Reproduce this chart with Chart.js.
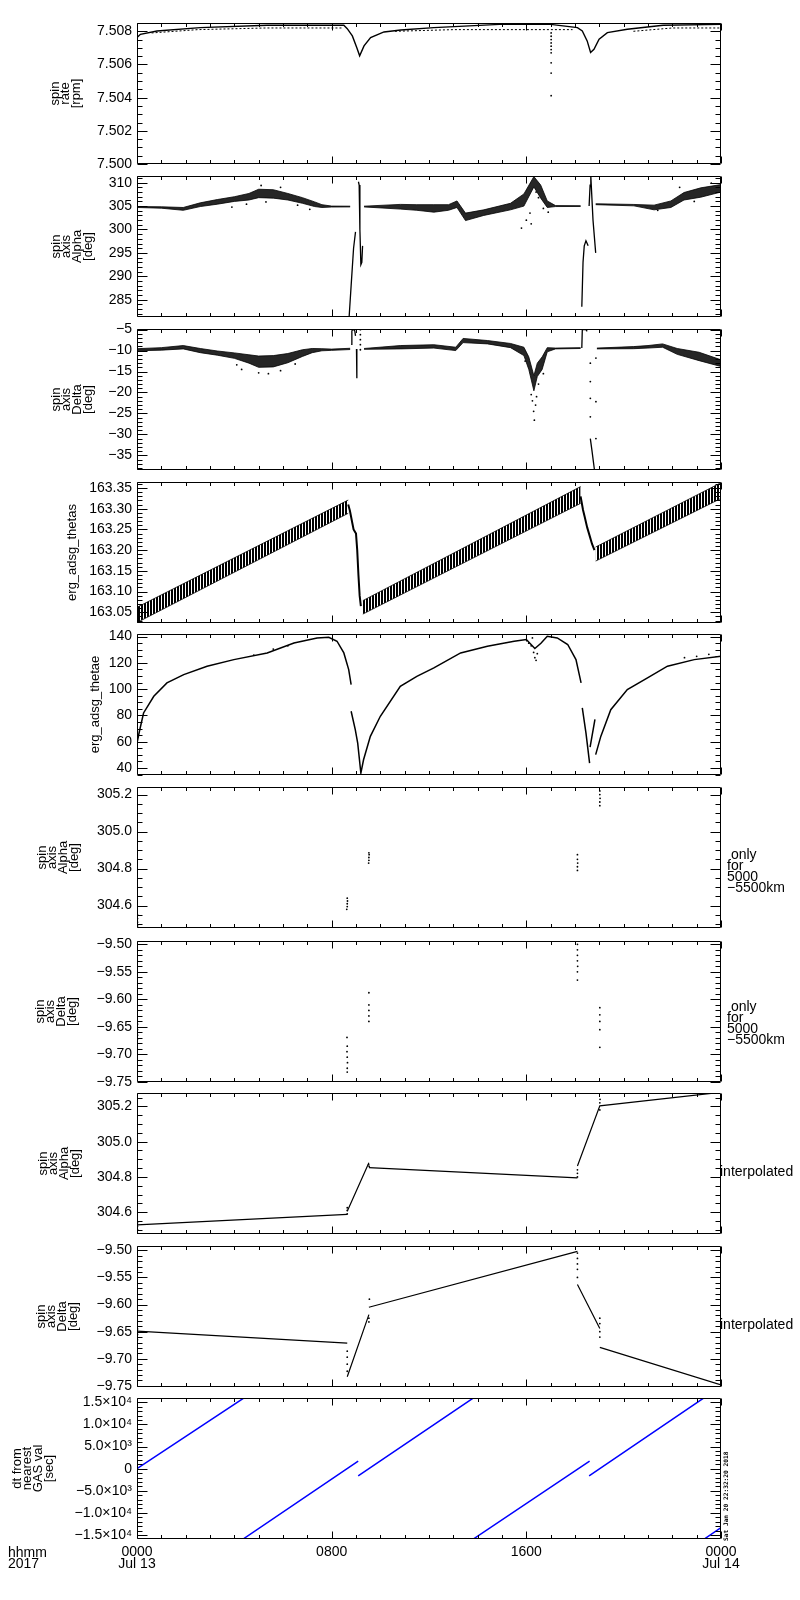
<!DOCTYPE html>
<html>
<head>
<meta charset="utf-8">
<script src="https://cdn.jsdelivr.net/npm/chart.js@4.4.1/dist/chart.umd.min.js"></script>
<style>
body { margin: 0; background: #fff; width: 800px; height: 1600px; position: relative; overflow: hidden; font-family: "Liberation Sans", Arial, sans-serif; }
canvas { position: absolute; left: 0; }
.lbl { position: absolute; font-size: 14px; line-height: 11px; color: #000; white-space: pre; }
.stamp { position: absolute; font-family: "DejaVu Sans Mono", monospace; font-weight: bold; font-size: 6.2px; line-height: 7px; white-space: pre; transform: rotate(-90deg); transform-origin: left top; }
</style>
</head>
<body>
<div id="wrap"></div>
<div class="lbl" style="left:8px;top:1547px">hhmm
2017</div>
<div class="lbl" style="left:727px;top:849px"> only
for
5000
−5500km</div>
<div class="lbl" style="left:727px;top:1001px"> only
for
5000
−5500km</div>
<div class="lbl" style="left:720px;top:1166px">interpolated</div>
<div class="lbl" style="left:720px;top:1319px">interpolated</div>
<div class="stamp" style="left:722px;top:1541px">Sat Jan 20 22:32:20 2018</div>

<script>
// ---- time axis (hours from 0000 Jul 13) ----
var hourTicks = [0, 8, 16, 24];
var hourLabels = [['0000', 'Jul 13'], '0800', '1600', ['0000', 'Jul 14']];

// ---- y tick values per panel ----
var spinRateTicks = [7.500, 7.502, 7.504, 7.506, 7.508];
var alphaTicks = [285, 290, 295, 300, 305, 310];
var deltaTicks = [-35, -30, -25, -20, -15, -10, -5];
var thetasTicks = [163.05, 163.10, 163.15, 163.20, 163.25, 163.30, 163.35];
var thetaeTicks = [40, 60, 80, 100, 120, 140];
var alphaFineTicks = [304.6, 304.8, 305.0, 305.2];
var deltaFineTicks = [-9.75, -9.70, -9.65, -9.60, -9.55, -9.50];
var dtTicks = [-15000, -10000, -5000, 0, 5000, 10000, 15000];

// ---- spin rate [rpm] ----
var spinRateMain = [[0,7.50762],[0.14,7.50782],[0.82,7.50802],[2.6,7.50822],[5.35,7.50836],[8.5,7.50836],[8.64,7.50816],[8.85,7.50772],[9.03,7.50702],[9.15,7.50652],[9.33,7.50712],[9.6,7.50762],[10.15,7.50796],[10.84,7.50808],[12.2,7.50822],[14.9,7.50842],[17.0,7.50842],[18.1,7.50822],[18.3,7.50802],[18.5,7.50742],[18.64,7.50672],[18.78,7.50692],[18.99,7.50752],[19.33,7.50792],[20.15,7.50812],[21.62,7.50836],[24,7.50842]];
var spinRateLow = [[0.6,7.5079],[2.5,7.5081],[5.3,7.5082],[8.45,7.5082],[8.6,null],[10.6,7.5080],[13,7.5081],[17.9,7.5081],[18.2,null],[20.4,7.5080],[22,7.5082],[24,7.5082]];
var spinRateStreak = [[17.02,7.5079],[17.02,7.5077],[17.02,7.5075],[17.02,7.5073],[17.02,7.5071],[17.02,7.5069],[17.02,7.5067],[17.02,7.5061],[17.02,7.50548],[17.02,7.50412]];

// ---- spin axis Alpha [deg] ----
var alphaX  = [0,1.0,1.9,2.6,3.3,4.0,4.6,5.0,5.6,6.2,6.8,7.3,7.6,8.0,8.76, 9.0, 9.33,10.82,11.5,12.2,12.8,13.15,13.5,14.25,15.35,15.9,16.31,16.59,16.86,17.2,18.23, 18.5, 18.85,20.42,21.25,21.94,22.48,23.17,24.0];
var alphaHi = [304.9,304.85,304.7,305.7,306.4,307.0,307.7,308.6,308.5,307.7,306.8,305.9,305.3,305.0,304.98, null, 304.98,305.36,305.3,305.3,305.3,306.1,303.5,304.2,305.6,307.6,311.3,309.5,306.1,305.1,305.08, null, 305.5,305.35,305.2,306.1,307.9,308.9,309.6];
var alphaLo = [304.7,304.55,304.1,304.9,305.4,306.0,306.3,306.8,306.7,306.3,305.6,304.9,304.7,304.8,304.82, null, 304.82,304.36,304.1,303.7,304.1,304.7,301.9,303.0,304.2,305.0,309.1,306.7,304.7,304.9,304.92, null, 305.3,305.05,304.2,304.7,306.3,306.9,308.0];
var alphaSpikes = [[8.72,281.5],[8.8,288],[8.9,296],[8.98,299.5],[9.05,null],[9.1,310.2],[9.13,309.5],[9.16,300],[9.2,292.5],[9.24,293],[9.27,296.5],[9.3,null],[18.28,283.5],[18.33,293],[18.38,296.5],[18.45,297.6],[18.5,297.0],[18.54,296.5],[18.56,null],[18.58,305],[18.62,309.5],[18.65,311.4],[18.74,302],[18.85,295]];
var alphaScatter = [[3.9,304.8],[4.5,305.4],[5.1,309.4],[5.3,305.9],[5.9,309.0],[6.6,305.2],[7.1,304.3],[15.8,300.3],[16.0,302],[16.15,303.5],[16.2,301.2],[16.4,308],[16.5,306.8],[16.7,304.5],[16.9,303.7],[21.4,304.1],[22.3,309],[22.9,306],[23.6,309.9]];

// ---- spin axis Delta [deg] ----
var deltaX  = [0,1.0,1.9,2.6,3.3,4.0,4.6,5.0,5.6,6.2,6.8,7.2,7.6,8.0,8.76, 9.0, 9.33,10.82,12.2,13.1,13.4,14.4,15.35,15.9,16.1,16.31,16.45,16.65,16.86,17.2,18.23, 18.5, 18.9,20.4,21.0,21.6,22.2,23.1,24.0];
var deltaHi = [-9.55,-9.3,-8.8,-9.5,-10.1,-10.55,-11.0,-11.3,-11.2,-10.7,-9.8,-9.5,-9.55,-9.65,-9.45, null, -9.5,-8.8,-8.6,-9.2,-7.1,-7.6,-8.3,-9.2,-11.5,-16.0,-13.0,-11.5,-9.3,-9.4,-9.3, null, -9.4,-9.05,-8.8,-8.4,-9.5,-10.4,-12.2];
var deltaLo = [-10.05,-9.9,-9.6,-10.5,-11.1,-11.85,-13.0,-14.0,-13.9,-12.9,-11.4,-10.5,-10.05,-9.95,-9.75, null, -9.7,-9.6,-9.4,-10.0,-8.1,-8.4,-9.3,-11.2,-14.5,-19.6,-16.2,-14.5,-10.3,-9.6,-9.5, null, -9.6,-9.55,-9.4,-9.2,-10.9,-12.4,-13.8];
var deltaSpikes = [[8.8,-8.5],[8.83,-5.3],[8.88,-4.9],[8.95,-5.3],[8.98,-6.5],[9.0,null],[9.02,-9.6],[9.03,-13],[9.04,-16.6],[9.1,null],[18.28,-9.4],[18.3,-5.0],[18.45,-5.0],[18.5,-5.4],[18.55,null],[18.63,-31],[18.7,-34],[18.8,-38.5]];
var deltaScatter = [[4.1,-13.4],[4.3,-14.5],[5.0,-15.3],[5.4,-15.5],[5.9,-14.8],[6.5,-13.2],[15.95,-12.5],[16.2,-20.5],[16.25,-22],[16.3,-24.5],[16.33,-26.6],[16.38,-23],[16.42,-21],[16.5,-18],[16.7,-15.5],[9.18,-5],[9.18,-6.2],[9.18,-7.4],[9.18,-8.6],[9.18,-9.8],[18.63,-13],[18.63,-17.4],[18.63,-21.4],[18.63,-25.8],[18.86,-11.8],[18.86,-22.2],[18.86,-31]];

// ---- erg_adsg_thetas ----
var thetasX  = [0, 8.68, 9.0, 9.28, 18.23, 18.5, 18.85, 24];
var thetasHi = [163.062, 163.321, null, 163.078, 163.3535, null, 163.2076, 163.363];
var thetasLo = [163.025, 163.289, null, 163.0455, 163.313, null, 163.1736, 163.325];
var thetasDrops = [[8.68,163.31],[8.75,163.295],[8.8,163.28],[8.85,163.265],[8.9,163.25],[8.95,163.245],[9.0,163.24],[9.05,163.2],[9.1,163.14],[9.15,163.09],[9.2,163.065],[9.5,null],[18.23,163.33],[18.26,163.32],[18.33,163.297],[18.4,163.28],[18.5,163.255],[18.6,163.235],[18.7,163.215],[18.8,163.2]];

// ---- erg_adsg_thetae ----
var thetaeCurve = [[0,59],[0.1,68],[0.27,81.9],[0.69,94.6],[1.23,104.8],[1.92,111.1],[2.88,117.5],[3.98,122.5],[5.35,127.6],[6.45,135.2],[7.4,139],[7.88,139.5],[8.22,136.5],[8.5,127.6],[8.7,114.9],[8.8,103.5],
  [8.8,null],[8.8,83.2],[8.97,69.2],[9.07,59],[9.2,36.2],[9.31,46.3],[9.59,64.1],[10.0,79.4],[10.82,102.2],[11.5,109.8],[12.2,116.2],[13.3,127.6],[14.4,132.7],[15.5,136.5],[16.0,137.8],[16.35,131],[16.6,135],[16.86,140.3],[17.27,139],[17.7,134],[18.04,122.5],[18.25,104.8],
  [18.25,null],[18.3,85.7],[18.45,66.7],[18.6,43.8],
  [18.6,null],[18.62,56],[18.82,77],
  [18.82,null],[18.85,50.2],[19.06,64.1],[19.47,84.4],[20.15,99.7],[20.98,108.6],[21.8,117.5],[22.9,122.5],[24,125]];
var thetaeScatter = [[4.8,126],[5.6,130.5],[6.2,133],[16.1,135],[16.2,133],[16.25,139],[16.3,128],[16.35,124],[16.4,122],[16.45,127],[22.5,124],[23.0,125],[23.5,126.5]];

// ---- only for 5000-5500km ----
var alphaOrbDots = [[0.02,304.49],[0.02,304.51],[0.02,304.53],[0.02,304.55],[8.62,304.58],[8.64,304.595],[8.64,304.61],[8.65,304.625],[8.64,304.64],[9.52,304.83],[9.53,304.845],[9.53,304.86],[9.54,304.875],[9.53,304.885],[18.1,304.79],[18.1,304.81],[18.11,304.83],[18.1,304.85],[18.1,304.875],[19.02,305.14],[19.02,305.16],[19.03,305.18],[19.02,305.2],[19.02,305.22]];
var deltaOrbDots = [[0.02,-9.645],[0.02,-9.655],[0.02,-9.665],[0.02,-9.672],[8.63,-9.669],[8.64,-9.685],[8.63,-9.695],[8.64,-9.705],[8.65,-9.715],[8.64,-9.725],[8.64,-9.732],[9.53,-9.588],[9.53,-9.61],[9.53,-9.62],[9.53,-9.63],[9.53,-9.64],[18.1,-9.50],[18.1,-9.51],[18.1,-9.52],[18.1,-9.53],[18.11,-9.54],[18.1,-9.55],[18.1,-9.565],[19.02,-9.615],[19.02,-9.628],[19.02,-9.64],[19.02,-9.655],[19.02,-9.687]];

// ---- interpolated ----
var alphaInterp = [[0,304.528],[8.64,304.587],[8.64,null],[8.64,304.605],[9.53,304.88],[9.53,null],[9.53,304.853],[18.1,304.794],[18.1,null],[18.1,304.862],[19.02,305.203],[24,305.28]];
var alphaInterpDots = [[0.02,304.48],[0.02,304.5],[0.02,304.52],[0.02,304.54],[8.64,304.59],[8.64,304.61],[8.64,304.625],[9.52,304.87],[9.54,304.86],[18.1,304.8],[18.1,304.82],[18.1,304.84],[19.02,305.18],[19.02,305.22],[19.03,305.24]];
var deltaInterp = [[0,-9.649],[8.64,-9.671],[8.64,null],[8.64,-9.733],[9.53,-9.6185],[9.53,null],[9.53,-9.605],[18.1,-9.502],[18.1,null],[18.1,-9.563],[19.02,-9.644],[19.02,null],[19.02,-9.679],[24,-9.748]];
var deltaInterpDots = [[0.02,-9.645],[0.02,-9.655],[0.02,-9.665],[8.64,-9.686],[8.64,-9.697],[8.64,-9.71],[8.64,-9.723],[9.55,-9.59],[9.53,-9.625],[9.53,-9.632],[18.1,-9.505],[18.1,-9.515],[18.1,-9.525],[18.1,-9.535],[18.1,-9.55],[19.02,-9.625],[19.02,-9.635],[19.02,-9.65],[19.02,-9.66]];

// ---- dt from nearest GAS val [sec] ----
var dtLines = [[0,0],[4.37,15900],[4.37,null],[4.39,-15800],[9.09,1729],[9.09,null],[9.09,-1654],[13.8,15900],[13.8,null],[13.85,-15800],[18.6,1729],[18.6,null],[18.58,-1654],[23.27,15900],[23.27,null],[23.34,-15800],[24,-13300]];


var PANEL_TOPS = [23, 176, 329, 482, 634, 787, 941, 1093, 1246, 1398];
var PANEL_H = 141;
var PAD = 14;
Chart.defaults.font.family = '"Liberation Sans", Arial, sans-serif';
Chart.defaults.color = '#000';

function minus(s) { return String(s).replace('-', '\u2212'); }
var SUP = {'0':'\u2070','1':'\u00b9','2':'\u00b2','3':'\u00b3','4':'\u2074','5':'\u2075'};
function sciLabel(v) {
    if (Math.abs(v) < 1e-9) return '0';
    var e = Math.floor(Math.log10(Math.abs(v)) + 1e-9);
    var m = (v / Math.pow(10, e)).toFixed(1);
    return minus(m) + '\u00d710' + SUP[e];
}

function line(data, o) {
    return Object.assign({data: data, showLine: true, borderColor: '#000', borderWidth: 1, pointRadius: 0, fill: false}, o || {});
}
function dots(data, o) {
    return Object.assign({data: data, showLine: false, pointRadius: 0.9, pointBackgroundColor: '#000', pointBorderWidth: 0}, o || {});
}
function band(xs, lo, hi, fillStyle) {
    var lower = xs.map(function (x, i) { return [x, lo[i]]; });
    var upper = xs.map(function (x, i) { return [x, hi[i]]; });
    return [line(lower, {borderWidth: 0.8}), line(upper, {borderWidth: 0.8, fill: '-1', backgroundColor: fillStyle})];
}
function stripes() {
    var c = document.createElement('canvas');
    c.width = 3; c.height = 4;
    var g = c.getContext('2d');
    g.fillStyle = '#000';
    g.fillRect(0, 0, 2, 4);
    return g.createPattern(c, 'repeat');
}

// frame + inward IDL-style ticks
var idlFrame = {
    id: 'idlFrame',
    afterDraw: function (chart, args, opts) {
        var ctx = chart.ctx, a = chart.chartArea, xs = chart.scales.x, ys = chart.scales.y;
        var L = Math.round(a.left) + 0.5, R = Math.round(a.right) - 0.5, T = Math.round(a.top) + 0.5, B = Math.round(a.bottom) - 0.5;
        ctx.save();
        ctx.strokeStyle = '#000';
        ctx.lineWidth = 1;
        ctx.beginPath();
        ctx.rect(L, T, R - L, B - T);
        for (var h = 0; h <= 24; h++) {
            var px = Math.round(xs.getPixelForValue(h)) + 0.5;
            var len = h % 8 === 0 ? 7 : 3.5;
            ctx.moveTo(px, B); ctx.lineTo(px, B - len);
            ctx.moveTo(px, T); ctx.lineTo(px, T + len);
        }
        var ratio = Math.round(opts.step / opts.minor);
        var k0 = Math.ceil(ys.min / opts.minor - 1e-6), k1 = Math.floor(ys.max / opts.minor + 1e-6);
        for (var k = k0; k <= k1; k++) {
            var py = Math.round(ys.getPixelForValue(k * opts.minor)) + 0.5;
            var ln = (k % ratio === 0) ? 10 : 5;
            ctx.moveTo(L, py); ctx.lineTo(L + ln, py);
            ctx.moveTo(R, py); ctx.lineTo(R - ln, py);
        }
        ctx.stroke();
        ctx.restore();
    }
};

var ALPHA_T = ['spin', 'axis', 'Alpha', '[deg]'];
var DELTA_T = ['spin', 'axis', 'Delta', '[deg]'];
var blue = {borderColor: '#0000ff', borderWidth: 1.5};

var panels = [
    {title: ['spin', 'rate', '[rpm]'], tx: 55, min: 7.5, max: 7.5085, ticks: spinRateTicks, step: 0.002, minor: 0.0005, fmt: function (v) { return v.toFixed(3); },
     sets: function () { return [line(spinRateMain, {borderWidth: 1.4}), line(spinRateLow, {borderDash: [2, 2]}), dots(spinRateStreak)]; }},
    {title: ALPHA_T, tx: 56, min: 281.3, max: 311.43, ticks: alphaTicks, step: 5, minor: 1, fmt: function (v) { return minus(v.toFixed(0)); },
     sets: function () { return band(alphaX, alphaLo, alphaHi, 'rgba(0,0,0,0.85)').concat([line(alphaSpikes, {borderWidth: 1.3}), dots(alphaScatter)]); }},
    {title: DELTA_T, tx: 56, min: -38.5, max: -4.85, ticks: deltaTicks, step: 5, minor: 1, fmt: function (v) { return minus(v.toFixed(0)); },
     sets: function () { return band(deltaX, deltaLo, deltaHi, 'rgba(0,0,0,0.85)').concat([line(deltaSpikes, {borderWidth: 1.3}), dots(deltaScatter)]); }},
    {title: 'erg_adsg_thetas', tx: 72, min: 163.024, max: 163.3646, ticks: thetasTicks, step: 0.05, minor: 0.01, fmt: function (v) { return v.toFixed(2); },
     sets: function () { return band(thetasX, thetasLo, thetasHi, stripes()).concat([line(thetasDrops, {borderWidth: 2})]); }},
    {title: 'erg_adsg_thetae', tx: 95, min: 34.7, max: 142, ticks: thetaeTicks, step: 20, minor: 5, fmt: function (v) { return v.toFixed(0); },
     sets: function () { return [line(thetaeCurve, {borderWidth: 1.5}), dots(thetaeScatter)]; }},
    {title: ALPHA_T, tx: 42, min: 304.479, max: 305.241, ticks: alphaFineTicks, step: 0.2, minor: 0.05, fmt: function (v) { return v.toFixed(1); },
     sets: function () { return [dots(alphaOrbDots)]; }},
    {title: DELTA_T, tx: 40, min: -9.75, max: -9.494, ticks: deltaFineTicks, step: 0.05, minor: 0.01, fmt: function (v) { return minus(v.toFixed(2)); },
     sets: function () { return [dots(deltaOrbDots)]; }},
    {title: ALPHA_T, tx: 43, min: 304.476, max: 305.276, ticks: alphaFineTicks, step: 0.2, minor: 0.05, fmt: function (v) { return v.toFixed(1); },
     sets: function () { return [line(alphaInterp, {borderWidth: 1.2}), dots(alphaInterpDots)]; }},
    {title: DELTA_T, tx: 41, min: -9.752, max: -9.492, ticks: deltaFineTicks, step: 0.05, minor: 0.01, fmt: function (v) { return minus(v.toFixed(2)); },
     sets: function () { return [line(deltaInterp, {borderWidth: 1.2}), dots(deltaInterpDots)]; }},
    {title: ['dt from', 'nearest', 'GAS val', '[sec]'], tx: 17, min: -15900, max: 15980, ticks: dtTicks, step: 5000, minor: 1000, fmt: sciLabel,
     sets: function () { return [line(dtLines, blue)]; }}
];

var wrap = document.getElementById('wrap');
var charts = [];
panels.forEach(function (p, i) {
    var last = i === panels.length - 1;
    var h = PAD + PANEL_H + (last ? 40 : PAD);
    var cv = document.createElement('canvas');
    cv.width = 800; cv.height = h;
    cv.style.width = '800px'; cv.style.height = h + 'px';
    cv.style.top = (PANEL_TOPS[i] - PAD) + 'px';
    wrap.appendChild(cv);
    var titleFont = {size: 13, lineHeight: 0.82};
    var xAxis = {
        type: 'linear', min: 0, max: 24,
        display: last,
        grid: {display: false, drawTicks: false},
        border: {display: false},
        afterBuildTicks: function (s) { s.ticks = hourTicks.map(function (v) { return {value: v}; }); },
        ticks: {
            autoSkip: false, maxRotation: 0, padding: 8,
            font: {size: 14, lineHeight: 0.8}, color: '#000',
            callback: function (v) { var j = hourTicks.indexOf(v); return j < 0 ? '' : hourLabels[j]; }
        }
    };
    if (last) xAxis.afterFit = function (s) { s.height = 40; };
    var myChart = new Chart(cv.getContext('2d'), {
        type: 'scatter',
        data: {datasets: p.sets()},
        plugins: [idlFrame],
        options: {
            responsive: false,
            animation: false,
            devicePixelRatio: 1,
            events: [],
            layout: {padding: {top: PAD, bottom: last ? 0 : PAD, left: 0, right: 79}},
            plugins: {
                legend: {display: false},
                tooltip: {enabled: false},
                idlFrame: {step: p.step, minor: p.minor}
            },
            scales: {
                x: xAxis,
                y: {
                    type: 'linear', min: p.min, max: p.max,
                    afterFit: function (s) { s.width = 137; },
                    afterBuildTicks: function (s) { s.ticks = p.ticks.map(function (v) { return {value: v}; }); },
                    grid: {display: false, drawTicks: false},
                    border: {display: false},
                    ticks: {autoSkip: false, padding: 5, font: {size: 14, lineHeight: 1}, color: '#000', callback: p.fmt},
                    title: {
                        display: true, text: p.title, color: '#000', font: titleFont,
                        padding: {top: p.tx - 13 * 0.82 / 2, bottom: 0}
                    }
                }
            }
        }
    });
    charts.push(myChart);
});
</script>
</body>
</html>
